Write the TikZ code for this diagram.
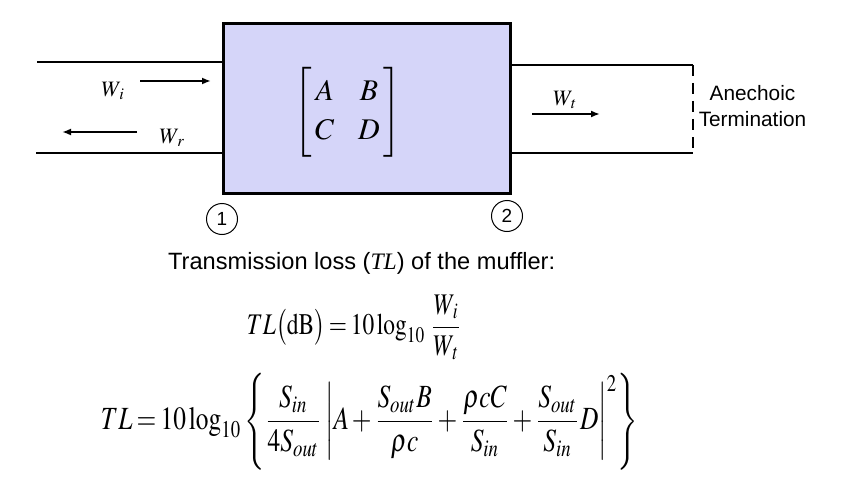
\documentclass[tikz,border=0pt]{standalone}
\usepackage{fontspec}
\setmainfont{Liberation Serif}
\setsansfont{Liberation Sans}
\newfontfamily\timesf{Liberation Serif}
\usepackage{mathptmx}
\usepackage{amsmath}
\usepackage{graphicx}
\usetikzlibrary{arrows.meta}
\definecolor{boxfill}{HTML}{D5D5F9}
\tikzset{
  pipe/.style={line width=2.6pt},
  flow/.style={line width=2.2pt,-{Latex[length=9pt,width=7pt]}},
  port/.style={circle,draw,line width=1pt,minimum size=31pt,inner sep=0pt,font=\sffamily\fontsize{19}{20}\selectfont},
  lbl/.style={inner sep=0pt,font=\fontsize{22}{24}\selectfont},
  sans/.style={inner sep=0pt,font=\sffamily\fontsize{20.8}{26}\selectfont,align=center},
  eq/.style={inner sep=0pt}
}
\newcommand{\tightmath}{\medmuskip=2mu\thickmuskip=3mu\thinmuskip=2mu}
\begin{document}
\begin{tikzpicture}[x=1pt,y=-1pt]
\useasboundingbox (0,0) rectangle (853,476);
% muffler box
\node[draw,line width=3pt,fill=boxfill,minimum width=287pt,minimum height=169pt,inner sep=0pt] (box) at (366.5,108.5) {};
\node[inner sep=0pt,font=\fontsize{30}{34}\selectfont] (mat) at (347.5,112.5) {\renewcommand{\arraystretch}{1.15}$\left[\begin{array}{@{\,}c@{\hspace{24pt}}c@{\,}} A & B\\ C & D\end{array}\right]$};
% left pipe
\coordinate (l1) at (37,62);
\coordinate (l2) at (36,153);
\draw[pipe] (l1) -- (box.west |- l1);
\draw[pipe] (l2) -- (box.west |- l2);
% right pipe
\coordinate (r1) at (693,65);
\coordinate (r2) at (693,153);
\draw[pipe] (box.east |- r1) -- (r1);
\draw[pipe] (box.east |- r2) -- (r2);
\draw[line width=2.6pt,dash pattern=on 11pt off 7pt] (r1) -- (r2);
% flows
\node[lbl] (wi) at (113,91) {$W_{\,i}$};
\coordinate (wia) at (140,81);
\coordinate (wib) at (211,81);
\draw[flow] (wia) -- (wib);
\node[lbl] (wr) at (172,138) {$W_{\,r}$};
\coordinate (wra) at (137,132);
\coordinate (wrb) at (62,132);
\draw[flow] (wra) -- (wrb);
\node[lbl] (wt) at (565,100) {$W_{\,t}$};
\coordinate (wta) at (532,114);
\coordinate (wtb) at (600,114);
\draw[flow] (wta) -- (wtb);
% termination label
\node[sans] (an) at (752.5,106) {Anechoic\\Termination};
% ports
\node[port] (p1) at (222,219) {1};
\node[port] (p2) at (507,216) {2};
% text
\node[inner sep=0pt,anchor=west,font=\sffamily\fontsize{23.6}{27}\selectfont] (t1) at (168,263) {Transmission loss ({\timesf\itshape TL}) of the muffler:};
\node[eq] (e1) at (354.5,327.5) {\resizebox*{215pt}{65pt}{\tightmath$TL\bigl(\mathrm{dB}\bigr)=10\log_{10}\,\dfrac{W_{\,i}}{W_{\,t}}$}};
\node[eq] (e2) at (369.5,421.5) {\resizebox*{537pt}{97pt}{\tightmath$TL=10\log_{10}\left\{\dfrac{S_{in}}{4S_{out}}\left|A+\dfrac{S_{out}B}{\rho c}+\dfrac{\rho cC}{S_{in}}+\dfrac{S_{out}}{S_{in}}D\right|^{2}\right\}$}};
\end{tikzpicture}
\end{document}
